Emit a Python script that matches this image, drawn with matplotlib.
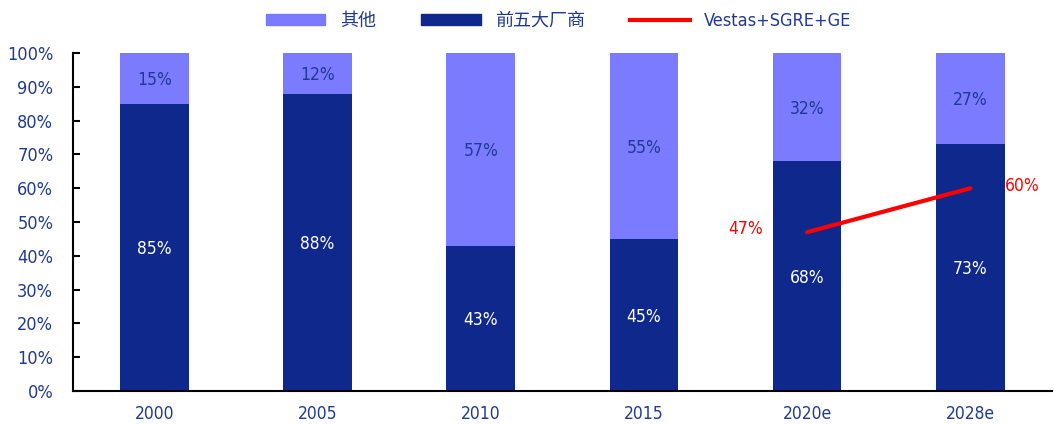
import matplotlib.pyplot as plt
from matplotlib.ticker import PercentFormatter
from matplotlib.patches import Patch
from matplotlib.lines import Line2D

plt.rcParams['font.family'] = ['DejaVu Sans', 'Noto Sans CJK SC']
plt.rcParams['font.stretch'] = 'condensed'

years = ['2000', '2005', '2010', '2015', '2020e', '2028e']
top5 = [85, 88, 43, 45, 68, 73]
others = [15, 12, 57, 55, 32, 27]
line_years = ['2020e', '2028e']
line_vals = [47, 60]

DARK = '#0F288C'
LIGHT = '#7B7BFF'
TXT = '#1F3A93'

fig = plt.figure(figsize=(10.54, 4.25), dpi=100)
ax = fig.add_axes([0.069, 0.08, 0.929, 0.795])

x = range(len(years))
w = 0.42
ax.bar(x, top5, w, color=DARK)
ax.bar(x, others, w, bottom=top5, color=LIGHT)

for i, (a, b) in enumerate(zip(top5, others)):
    ax.text(i, a / 2 - 0.5, f'{a}%', ha='center', va='center', color='white', fontsize=12.5)
    ax.text(i, a + b / 2 - 0.5, f'{b}%', ha='center', va='center', color=TXT, fontsize=12.5)

lx = [years.index(y) for y in line_years]
ax.plot(lx, line_vals, color='red', lw=3, solid_capstyle='round')
ax.text(lx[0] - 0.27, line_vals[0] + 1, f'{line_vals[0]}%', ha='right', va='center', color='red', fontsize=12.5)
ax.text(lx[1] + 0.21, line_vals[1] + 0.8, f'{line_vals[1]}%', ha='left', va='center', color='red', fontsize=12.5)

ax.set_xlim(-0.5, len(years) - 0.5)
ax.set_ylim(0, 100)
ax.set_yticks(range(0, 101, 10))
ax.yaxis.set_major_formatter(PercentFormatter(decimals=0))
ax.set_xticks(list(x))
ax.set_xticklabels(years)
ax.tick_params(axis='y', direction='in', length=5, width=1.5, labelsize=13, labelcolor=TXT, pad=14)
ax.tick_params(axis='x', length=0, labelsize=12.5, labelcolor=TXT, pad=10)
for s in ['top', 'right']:
    ax.spines[s].set_visible(False)
for s in ['left', 'bottom']:
    ax.spines[s].set_linewidth(1.5)

handles = [Patch(color=LIGHT), Patch(color=DARK), Line2D([0], [0], color='red', lw=3)]
labels = ['其他', '前五大厂商', 'Vestas+SGRE+GE']
leg = fig.legend(handles, labels, loc='upper center', bbox_to_anchor=(0.53, 1.01), ncol=3,
                 frameon=False, fontsize=13, handlelength=3.3, handleheight=0.5, columnspacing=2.5)
for t in leg.get_texts():
    t.set_color(TXT)

fig.savefig('out.png', dpi=100)
